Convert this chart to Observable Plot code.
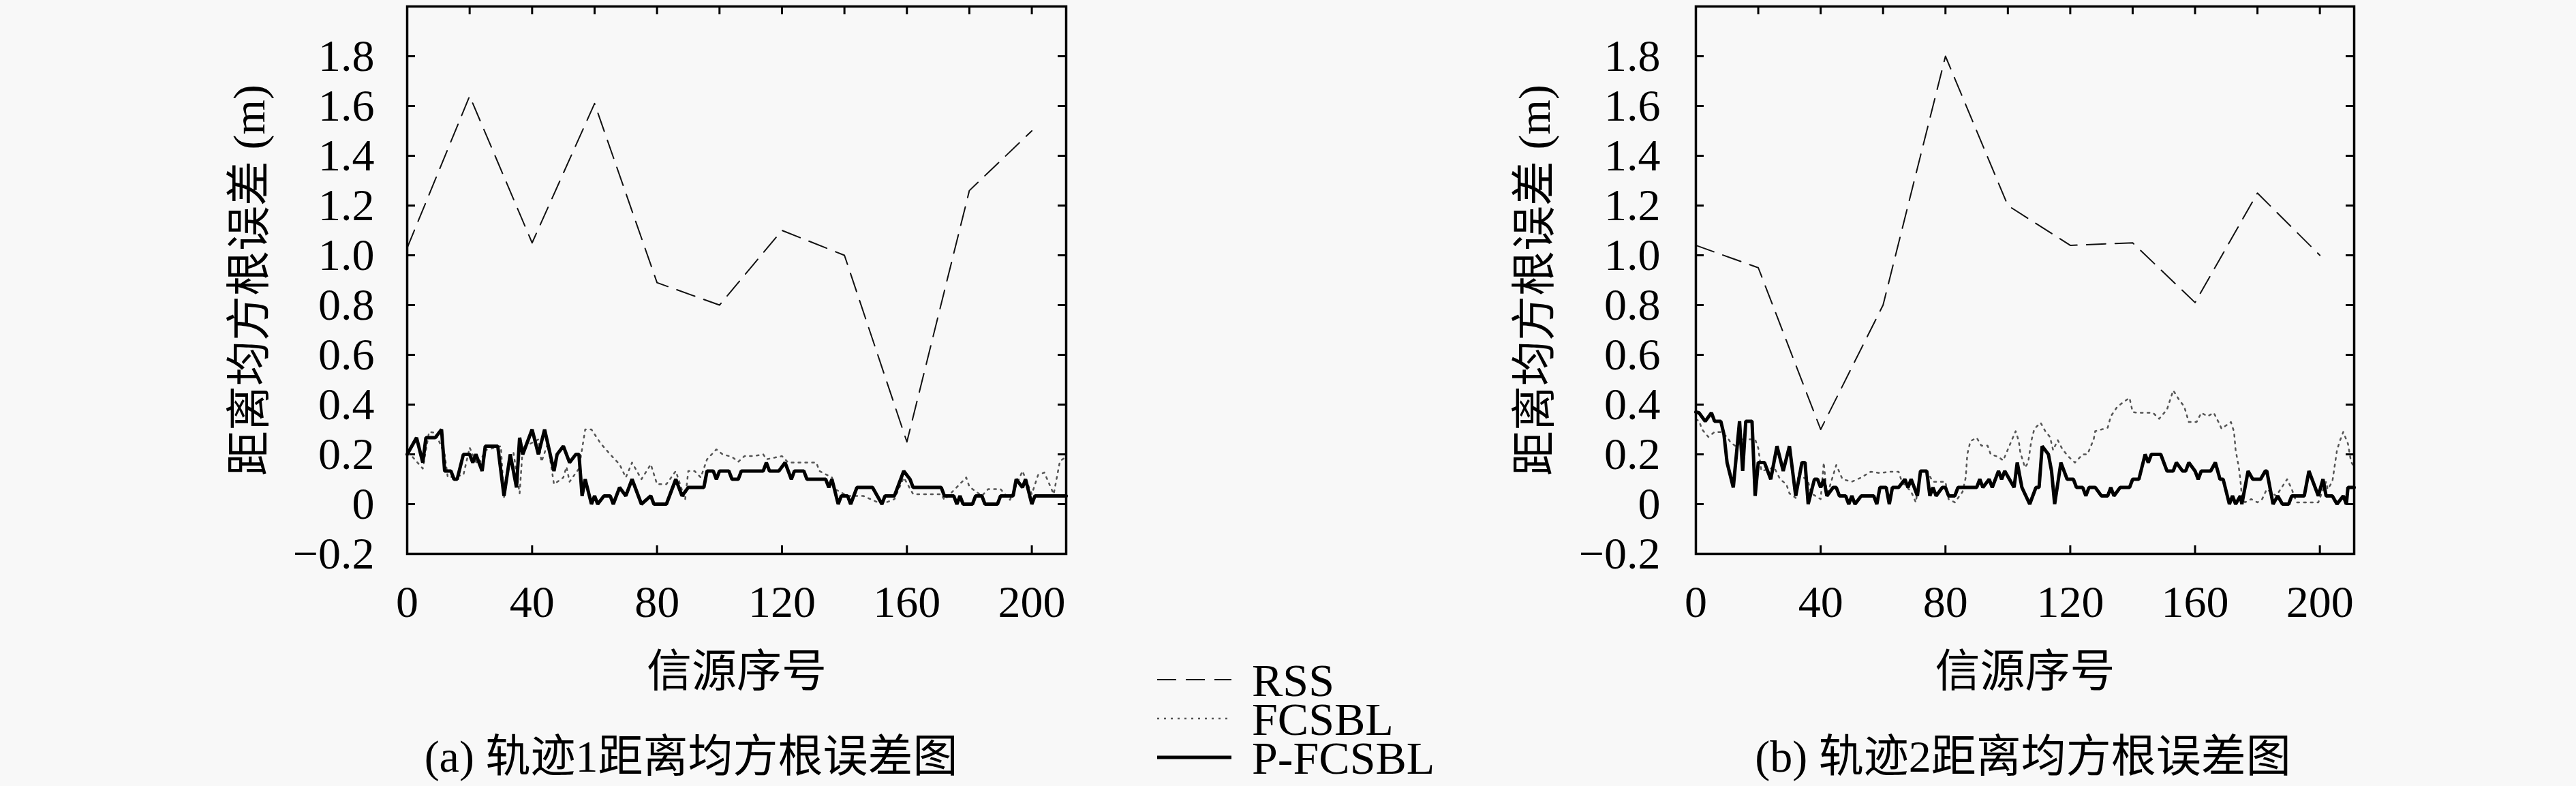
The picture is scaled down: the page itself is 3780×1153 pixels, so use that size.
<!DOCTYPE html>
<html>
<head>
<meta charset="utf-8">
<script src="https://cdn.jsdelivr.net/npm/d3@7"></script>
<script src="https://cdn.jsdelivr.net/npm/@observablehq/plot@0.6"></script>
<style>
  body { margin: 0; background: #f8f8f8; width: 3780px; height: 1153px; position: relative; overflow: hidden; }
  .panel { position: absolute; top: 0; }
  #legend { position: absolute; left: 1690px; top: 960px; }
</style>
</head>
<body>
<div id="p1" class="panel" style="left:0px"></div>
<div id="legend"></div>
<div id="p2" class="panel" style="left:2130px"></div>
<script>
// tick values
const xTicksLabel = [0, 40, 80, 120, 160, 200]
const xTicksTop = [20, 40, 60, 80, 100, 120, 140, 160, 180, 200]
const yTicks = [-0.2, 0, 0.2, 0.4, 0.6, 0.8, 1.0, 1.2, 1.4, 1.6, 1.8]

// RSS (every 20 sources)
const rssX = [0, 20, 40, 60, 80, 100, 120, 140, 160, 180, 200]
const rss1 = [1.03, 1.64, 1.05, 1.61, 0.89, 0.80, 1.10, 1.00, 0.25, 1.26, 1.50]
const rss2 = [1.04, 0.95, 0.30, 0.80, 1.80, 1.20, 1.04, 1.05, 0.81, 1.25, 1.00]

// 轨迹1 FCSBL
const fc1X = [0, 1, 5, 7, 9, 12, 13, 18, 20, 22, 23, 25, 30, 31, 33, 34, 36, 37, 42, 43, 45, 47, 50, 51, 52, 55, 57, 59, 62, 65, 68, 70, 72, 75, 78, 80, 83, 86, 89, 90, 92, 94, 96, 99, 101, 104, 106, 108, 111, 114, 115, 120, 122, 131, 132, 136, 137, 141, 146, 152, 156, 159, 162, 171, 172, 179, 180, 184, 186, 190, 193, 197, 200, 202, 204, 207, 209, 211]
const fc1Y = [0.2, 0.2, 0.143, 0.29, 0.287, 0.2, 0.107, 0.117, 0.227, 0.17, 0.16, 0.217, 0.233, 0.027, 0.19, 0.21, 0.043, 0.227, 0.26, 0.17, 0.243, 0.08, 0.107, 0.15, 0.09, 0.143, 0.3, 0.3, 0.243, 0.2, 0.16, 0.107, 0.167, 0.1, 0.16, 0.08, 0.08, 0.133, 0.017, 0.133, 0.133, 0.107, 0.18, 0.22, 0.2, 0.19, 0.17, 0.193, 0.193, 0.2, 0.18, 0.193, 0.167, 0.167, 0.133, 0.107, 0.06, 0.033, 0.033, 0, 0.02, 0.107, 0.04, 0.04, 0.017, 0.107, 0.07, 0.033, 0.06, 0.06, 0.017, 0.133, 0.04, 0.117, 0.127, 0.04, 0.173, 0.19]

// 轨迹1 P-FCSBL
const pf1X = [0, 3, 5, 6, 9, 11, 12, 14, 15, 16, 18, 20, 21, 22, 24, 25, 29, 31, 33, 35, 36, 37, 40, 42, 44, 47, 48, 50, 52, 54, 55, 56, 57, 59, 60, 61, 63, 65, 66, 68, 70, 72, 75, 78, 79, 83, 86, 88, 90, 95, 96, 98, 99, 100, 103, 104, 106, 107, 114, 115, 116, 119, 121, 123, 124, 127, 128, 134, 135, 136, 138, 139, 141, 142, 144, 149, 152, 153, 156, 159, 161, 162, 171, 172, 175, 176, 177, 178, 181, 182, 184, 185, 189, 190, 194, 195, 197, 198, 200, 201, 211]
const pf1Y = [0.2, 0.267, 0.167, 0.267, 0.267, 0.3, 0.133, 0.133, 0.1, 0.1, 0.2, 0.2, 0.167, 0.2, 0.133, 0.233, 0.233, 0.033, 0.2, 0.067, 0.267, 0.2, 0.3, 0.2, 0.3, 0.133, 0.2, 0.233, 0.167, 0.2, 0.2, 0.033, 0.1, 0, 0.033, 0, 0.033, 0.033, 0, 0.067, 0.033, 0.1, 0, 0.033, 0, 0, 0.1, 0.033, 0.067, 0.067, 0.133, 0.133, 0.1, 0.133, 0.133, 0.1, 0.1, 0.133, 0.133, 0.167, 0.133, 0.133, 0.167, 0.1, 0.133, 0.133, 0.1, 0.1, 0.067, 0.1, 0, 0.033, 0.033, 0, 0.067, 0.067, 0, 0.033, 0.033, 0.133, 0.1, 0.067, 0.067, 0.033, 0.033, 0, 0.033, 0, 0, 0.033, 0.033, 0, 0, 0.033, 0.033, 0.1, 0.067, 0.1, 0, 0.033, 0.033]

// 轨迹2 FCSBL
const fc2X = [0, 1, 2, 4, 6, 8, 10, 11, 13, 15, 19, 20, 21, 24, 25, 27, 29, 30, 32, 33, 36, 37, 40, 41, 42, 45, 47, 50, 53, 56, 59, 62, 65, 66, 69, 70.5, 72, 74, 76, 80, 81, 83, 85.5, 86.5, 87, 88, 90, 91.5, 93.5, 94.5, 97, 98.5, 100.5, 102.5, 103.5, 104, 105.5, 106.5, 107.5, 108.5, 110.5, 112, 113.5, 114.5, 116, 117.5, 119.5, 121.5, 124, 125.5, 127.5, 128, 132, 133, 135, 137, 139, 140, 141.5, 146.5, 148.5, 151, 153, 155, 156.5, 158, 160.5, 162, 164, 166, 167.5, 168.5, 171.5, 172.5, 173, 174, 174.5, 175, 176, 178, 180, 181.5, 183, 186, 189.5, 191, 192.5, 197, 199.5, 202, 202.5, 204, 205.5, 206.5, 207.5, 209, 210, 211]
const fc2Y = [0.34, 0.335, 0.3, 0.27, 0.29, 0.29, 0.27, 0.25, 0.23, 0.26, 0.26, 0.225, 0.133, 0.143, 0.15, 0.1, 0.08, 0.043, 0.025, 0.125, 0.09, 0.043, 0.02, 0.167, 0.033, 0.157, 0.1, 0.09, 0.107, 0.13, 0.125, 0.13, 0.13, 0.09, 0.05, 0.007, 0.133, 0.133, 0.09, 0.09, 0.02, 0.007, 0.05, 0.107, 0.2, 0.253, 0.267, 0.235, 0.235, 0.2, 0.19, 0.175, 0.235, 0.293, 0.253, 0.207, 0.147, 0.167, 0.253, 0.303, 0.327, 0.293, 0.27, 0.217, 0.257, 0.22, 0.19, 0.167, 0.2, 0.2, 0.26, 0.293, 0.307, 0.353, 0.39, 0.41, 0.427, 0.37, 0.367, 0.367, 0.343, 0.38, 0.457, 0.417, 0.393, 0.33, 0.33, 0.367, 0.353, 0.367, 0.33, 0.303, 0.33, 0.29, 0.217, 0.15, 0.1, 0.033, 0.007, 0.02, 0.007, 0.02, 0.06, 0.033, 0.1, 0.06, 0.007, 0.007, 0.007, 0.09, 0.06, 0.09, 0.217, 0.257, 0.29, 0.243, 0.17, 0.15]

// 轨迹2 P-FCSBL
const pf2X = [0, 1, 3, 5, 6, 8, 9, 10, 12, 14, 15, 16, 18, 19, 20, 22, 24, 26, 28, 30, 32, 34, 35, 36, 38, 39, 40, 41, 42, 44, 45, 46, 48, 49, 50, 51, 53, 57, 58, 59, 61, 62, 63, 65, 67, 68, 69, 70, 71, 72, 74, 75, 76, 77, 79, 80, 81, 83, 84, 90, 91, 92, 94, 95, 97, 98, 99, 102, 103, 104.5, 107, 109, 110, 111, 113, 114, 115, 117, 119, 121, 122, 124, 125, 126, 128, 130, 132, 133, 134, 136, 139, 140, 142, 144, 145, 146, 149, 151, 153, 154, 156, 157, 158, 160, 161, 162, 165, 166.5, 168, 169, 171, 172, 173, 174.5, 175, 177, 178.5, 181, 182.5, 183, 185, 186.5, 188, 190, 191, 195, 196.5, 199.5, 201, 202, 204, 205.5, 207.5, 208.5, 209, 211]
const pf2Y = [0.37, 0.367, 0.333, 0.367, 0.333, 0.333, 0.28, 0.167, 0.067, 0.333, 0.133, 0.333, 0.333, 0.033, 0.167, 0.167, 0.1, 0.233, 0.133, 0.233, 0.033, 0.167, 0.167, 0, 0.1, 0.1, 0.067, 0.1, 0.033, 0.067, 0.067, 0.033, 0.033, 0, 0.033, 0, 0.033, 0.033, 0, 0.067, 0.067, 0, 0.067, 0.067, 0.1, 0.067, 0.1, 0.067, 0.033, 0.133, 0.133, 0.033, 0.067, 0.033, 0.067, 0.067, 0.033, 0.033, 0.067, 0.067, 0.1, 0.067, 0.1, 0.067, 0.133, 0.1, 0.133, 0.067, 0.167, 0.067, 0, 0.067, 0.067, 0.233, 0.2, 0.133, 0, 0.167, 0.1, 0.1, 0.067, 0.067, 0.033, 0.067, 0.067, 0.033, 0.033, 0.067, 0.033, 0.067, 0.067, 0.1, 0.1, 0.2, 0.167, 0.2, 0.2, 0.133, 0.133, 0.167, 0.133, 0.133, 0.167, 0.133, 0.1, 0.133, 0.133, 0.167, 0.1, 0.1, 0, 0.033, 0, 0.033, 0, 0.133, 0.1, 0.1, 0.133, 0.133, 0, 0.033, 0, 0, 0.033, 0.033, 0.133, 0.033, 0.1, 0.033, 0.033, 0, 0.033, 0, 0.067, 0.067]

const yLabel = "距离均方根误差 (m)"
const xLabel = "信源序号"
const captions = ["(a) 轨迹1距离均方根误差图", "(b) 轨迹2距离均方根误差图"]
const legendNames = ["RSS", "FCSBL", "P-FCSBL"]

const font = "'Liberation Serif', 'Noto Sans CJK SC', serif"
const toPts = (xs, ys) => xs.map((x, i) => ({x, y: ys[i]}))
const fmtY = d => d === 0 ? "0" : d3.format(".1f")(d)

function panel(cfg) {
  const W = cfg.width - cfg.marginLeft - cfg.marginRight
  const H = cfg.height - cfg.marginTop - cfg.marginBottom
  const tick = 12
  return Plot.plot({
    width: cfg.width,
    height: cfg.height,
    marginLeft: cfg.marginLeft,
    marginRight: cfg.marginRight,
    marginTop: cfg.marginTop,
    marginBottom: cfg.marginBottom,
    style: {fontFamily: font, fontSize: "66px", background: "transparent", color: "black"},
    x: {domain: [0, 211]},
    y: {domain: [-0.2, 2.0]},
    marks: [
      Plot.axisY({ticks: yTicks, tickSize: 0, tickPadding: cfg.yPad, tickFormat: fmtY, label: null, fontSize: 66}),
      Plot.axisX({ticks: xTicksLabel, tickSize: 0, tickPadding: 46, label: null, fontSize: 66}),
      Plot.tickY(yTicks, {y: d => d, insetRight: W - tick, strokeWidth: 3}),
      Plot.tickY(yTicks, {y: d => d, insetLeft: W - tick, strokeWidth: 3}),
      Plot.tickX(xTicksTop, {x: d => d, insetBottom: H - tick, strokeWidth: 3}),
      Plot.tickX(xTicksLabel, {x: d => d, insetTop: H - tick, strokeWidth: 3}),
      Plot.line(toPts(rssX, cfg.rss), {x: "x", y: "y", stroke: "#111", strokeWidth: 2, strokeDasharray: "28,14"}),
      Plot.line(toPts(cfg.fcX, cfg.fcY), {x: "x", y: "y", stroke: "#555", strokeWidth: 2.5, strokeDasharray: "3,7"}),
      Plot.line(toPts(cfg.pfX, cfg.pfY), {x: "x", y: "y", stroke: "black", strokeWidth: 5, strokeLinejoin: "miter"}),
      Plot.frame({stroke: "black", strokeWidth: 3.5}),
      Plot.text([yLabel], {frameAnchor: "left", dx: -cfg.yLabelOff, rotate: -90, textAnchor: "middle", lineAnchor: "middle", fontSize: 66}),
      Plot.text([xLabel], {frameAnchor: "bottom", dy: 173, textAnchor: "middle", lineAnchor: "middle", fontSize: 66}),
      Plot.text([cfg.caption], {frameAnchor: "bottom", dx: cfg.capDx, dy: 298, textAnchor: "middle", lineAnchor: "middle", fontSize: 66})
    ]
  })
}

const chart1 = panel({width: 1650, height: 1153, marginLeft: 597, marginRight: 86, marginTop: 9, marginBottom: 341,
  yPad: 48, yLabelOff: 231, capDx: -67, caption: captions[0],
  rss: rss1, fcX: fc1X, fcY: fc1Y, pfX: pf1X, pfY: pf1Y})
d3.select("#p1").append(() => chart1)

const chart2 = panel({width: 1650, height: 1153, marginLeft: 358, marginRight: 326, marginTop: 9, marginBottom: 341,
  yPad: 52, yLabelOff: 236, capDx: -3, caption: captions[1],
  rss: rss2, fcX: fc2X, fcY: fc2Y, pfX: pf2X, pfY: pf2Y})
d3.select("#p2").append(() => chart2)

// legend
const lg = d3.select("#legend").append("svg").attr("width", 460).attr("height", 190)
const styles = [
  {stroke: "#111", w: 2, dash: "28,14"},
  {stroke: "#555", w: 2.5, dash: "3,7"},
  {stroke: "black", w: 5, dash: null}
]
legendNames.forEach((name, i) => {
  const y = 37 + i * 57
  lg.append("line").attr("x1", 8).attr("x2", 117).attr("y1", y).attr("y2", y)
    .attr("stroke", styles[i].stroke).attr("stroke-width", styles[i].w)
    .attr("stroke-dasharray", styles[i].dash)
  lg.append("text").attr("x", 147).attr("y", y).attr("dy", "0.35em")
    .attr("font-family", font).attr("font-size", 68).text(name)
})
</script>
</body>
</html>
